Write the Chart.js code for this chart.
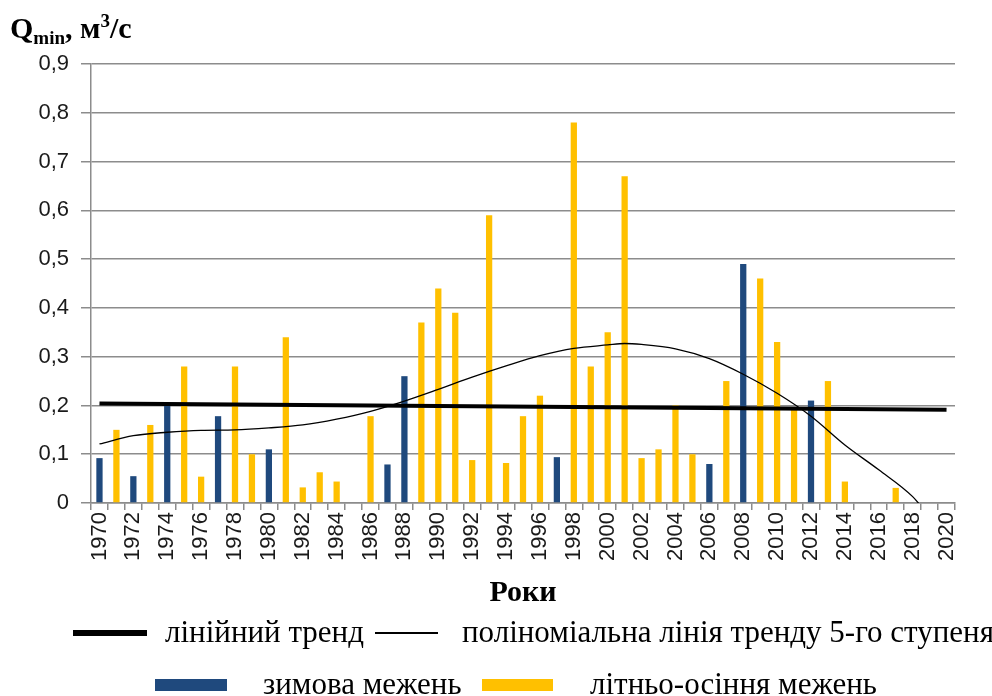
<!DOCTYPE html>
<html>
<head>
<meta charset="utf-8">
<script src="https://cdn.jsdelivr.net/npm/chart.js@4/dist/chart.umd.min.js"></script>
<style>
  html, body { margin: 0; padding: 0; background: #fff; }
  #wrap { position: relative; width: 992px; height: 696px; overflow: hidden; background: #fff; }
  #c { position: absolute; left: 0; top: 0; }
  #ytitle { position: absolute; left: 10px; top: 10px; font: bold 30px "Liberation Serif", "Times New Roman", serif; color: #000; white-space: nowrap; line-height: 36px; }
  #ytitle sub { font-size: 19px; vertical-align: baseline; position: relative; top: 6px; }
  #ytitle sup { font-size: 19px; vertical-align: baseline; position: relative; top: -11px; }
  .legitem { position: absolute; white-space: nowrap; font: 31px "Liberation Serif", "Times New Roman", serif; color: #000; line-height: 36px; }
  .sw { position: absolute; }
</style>
</head>
<body>
<div id="wrap">
  <canvas id="c" width="992" height="696"></canvas>
  <div id="ytitle">Q<sub>min</sub>, м<sup>3</sup>/с</div>
  <div id="legend"></div>
</div>
<script>
// ---- Data ----
const years = ['1970','1971','1972','1973','1974','1975','1976','1977','1978','1979',
  '1980','1981','1982','1983','1984','1985','1986','1987','1988','1989',
  '1990','1991','1992','1993','1994','1995','1996','1997','1998','1999',
  '2000','2001','2002','2003','2004','2005','2006','2007','2008','2009',
  '2010','2011','2012','2013','2014','2015','2016','2017','2018','2019','2020'];

const yTickLabels = ['0','0,1','0,2','0,3','0,4','0,5','0,6','0,7','0,8','0,9'];

// зимова межень (winter low flow)
const winterYears  = ['1970','1972','1974','1977','1980','1987','1988','1997','2006','2008','2012'];
const winterValues = [0.092, 0.055, 0.200, 0.178, 0.110, 0.079, 0.260, 0.094, 0.080, 0.490, 0.210];

// літньо-осіння межень (summer-autumn low flow)
const summerYears  = ['1971','1973','1975','1976','1978','1979','1981','1982','1983','1984',
  '1986','1989','1990','1991','1992','1993','1994','1995','1996','1998',
  '1999','2000','2001','2002','2003','2004','2005','2007','2009','2010',
  '2011','2013','2014','2017'];
const summerValues = [0.150, 0.160, 0.280, 0.054, 0.280, 0.100, 0.340, 0.032, 0.063, 0.044,
  0.178, 0.370, 0.440, 0.390, 0.088, 0.590, 0.082, 0.178, 0.220, 0.780,
  0.280, 0.350, 0.670, 0.092, 0.110, 0.200, 0.100, 0.250, 0.460, 0.330,
  0.193, 0.250, 0.044, 0.031];

// лінійний тренд (endpoints as drawn)
const linearYears  = ['1970','2020'];
const linearValues = [0.204, 0.191];

// поліноміальна лінія тренду 5-го ступеня
const polyYears  = ['1970','1972','1974','1976','1978','1980','1982','1984','1986','1988',
  '1990','1992','1994','1996','1998','2000','2001','2002','2004','2006',
  '2008','2010','2012','2014','2016','2018','2019'];
const polyValues = [0.121, 0.138, 0.145, 0.149, 0.150, 0.154, 0.160, 0.172, 0.188, 0.209,
  0.233, 0.258, 0.281, 0.302, 0.317, 0.324, 0.327, 0.325, 0.316, 0.296,
  0.264, 0.225, 0.178, 0.119, 0.068, 0.013, -0.028];

const seriesNames = ['лінійний тренд', 'поліноміальна лінія тренду 5-го ступеня', 'зимова межень', 'літньо-осіння межень'];

// ---- Build chart ----
const pts = (xs, ys) => xs.map((x, i) => ({ x: x, y: ys[i] }));
const BLUE = '#1F497D';
const YELLOW = '#FFC000';
const GRID = '#8c8c8c';
const tickFont = { family: '"Liberation Sans", Arial, sans-serif', size: 22 };

const chart = new Chart(document.getElementById('c'), {
  type: 'bar',
  data: {
    labels: years,
    datasets: [
      { type: 'line', label: seriesNames[0], data: pts(linearYears, linearValues),
        borderColor: '#000', borderWidth: 4, pointRadius: 0, fill: false, order: 0 },
      { type: 'line', label: seriesNames[1], data: pts(polyYears, polyValues),
        borderColor: '#000', borderWidth: 1.3, pointRadius: 0, fill: false,
        cubicInterpolationMode: 'monotone', order: 0 },
      { type: 'bar', label: seriesNames[2], data: pts(winterYears, winterValues),
        backgroundColor: BLUE, grouped: false, categoryPercentage: 1, barPercentage: 0.37, order: 1 },
      { type: 'bar', label: seriesNames[3], data: pts(summerYears, summerValues),
        backgroundColor: YELLOW, grouped: false, categoryPercentage: 1, barPercentage: 0.37, order: 1 }
    ]
  },
  options: {
    responsive: false,
    animation: false,
    devicePixelRatio: 1,
    layout: { padding: { left: 0, right: 37, top: 64, bottom: 81 } },
    plugins: { legend: { display: false }, tooltip: { enabled: false } },
    scales: {
      x: {
        type: 'category',
        offset: true,
        grid: { display: true, drawOnChartArea: false, offset: true, tickLength: 7, color: GRID, lineWidth: 1.5 },
        border: { color: GRID, width: 1.5 },
        ticks: {
          autoSkip: false, minRotation: 90, maxRotation: 90, padding: 2,
          font: tickFont, color: '#1a1a1a',
          callback: (v, i) => (i % 2 === 0 ? years[i] : '')
        },
        title: {
          display: true, text: 'Роки', color: '#000',
          font: { family: '"Liberation Serif", "Times New Roman", serif', size: 30, weight: 'bold' },
          padding: { top: 0, bottom: 4 }
        },
        afterFit: (s) => { s.height = 112; }
      },
      y: {
        min: 0, max: 0.9,
        ticks: { stepSize: 0.1, padding: 12, font: tickFont, color: '#1a1a1a',
          callback: (v, i) => yTickLabels[i] },
        grid: { color: GRID, lineWidth: 1.5, tickLength: 10 },
        border: { color: GRID, width: 1.5 },
        afterFit: (s) => { s.width = 91; }
      }
    }
  }
});

// ---- HTML legend (two rows, as in the reference) ----
const legendLayout = [
  { ds: 0, swX: 73,  swW: 74, textX: 165, cy: 633, kind: 'line', h: 6 },
  { ds: 1, swX: 375, swW: 63, textX: 462, cy: 633, kind: 'line', h: 1.5 },
  { ds: 2, swX: 155, swW: 72, textX: 263, cy: 685, kind: 'box',  h: 12 },
  { ds: 3, swX: 482, swW: 71, textX: 590, cy: 685, kind: 'box',  h: 12 }
];
const legendEl = document.getElementById('legend');
legendLayout.forEach(it => {
  const d = chart.data.datasets[it.ds];
  const sw = document.createElement('div');
  sw.className = 'sw';
  sw.style.left = it.swX + 'px';
  sw.style.width = it.swW + 'px';
  sw.style.height = it.h + 'px';
  sw.style.top = (it.cy - it.h / 2) + 'px';
  sw.style.background = it.kind === 'line' ? d.borderColor : d.backgroundColor;
  legendEl.appendChild(sw);
  const t = document.createElement('div');
  t.className = 'legitem';
  t.textContent = d.label;
  t.style.left = it.textX + 'px';
  t.style.top = (it.cy - 19) + 'px';
  legendEl.appendChild(t);
});
</script>
</body>
</html>
